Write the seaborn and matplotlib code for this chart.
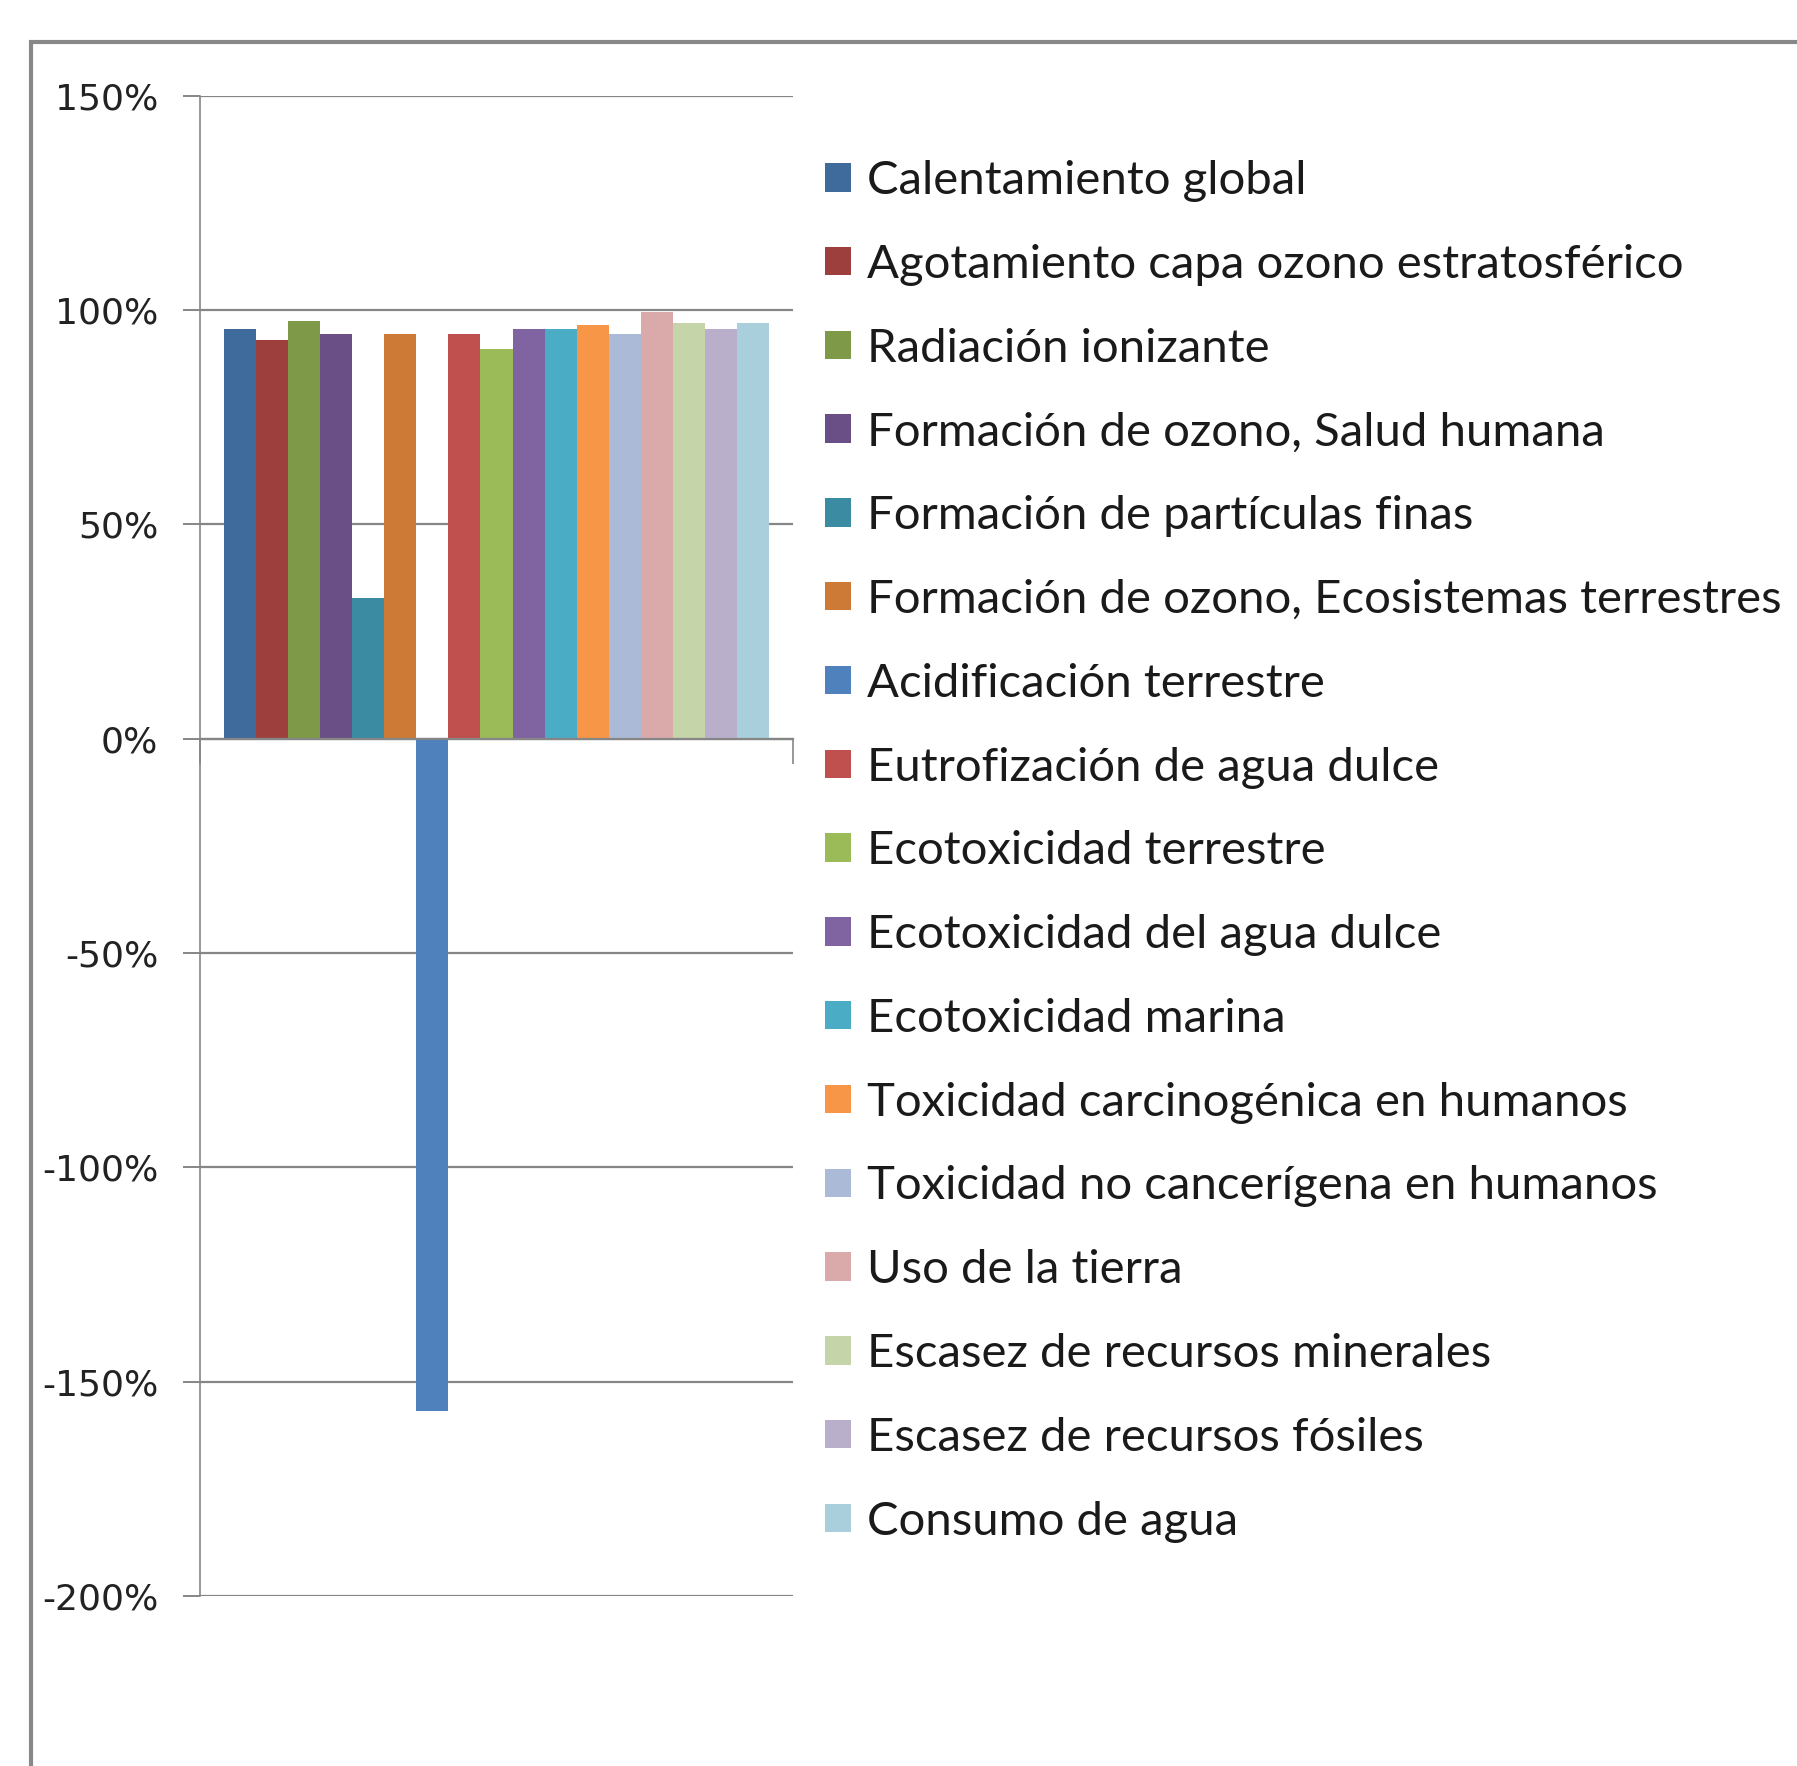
import matplotlib
matplotlib.use("Agg")
import matplotlib.pyplot as plt
import seaborn as sns
import pandas as pd
from matplotlib.patches import Rectangle
from matplotlib.ticker import FuncFormatter

categorias = [
    "Calentamiento global",
    "Agotamiento capa ozono estratosférico",
    "Radiación ionizante",
    "Formación de ozono, Salud humana",
    "Formación de partículas finas",
    "Formación de ozono, Ecosistemas terrestres",
    "Acidificación terrestre",
    "Eutrofización de agua dulce",
    "Ecotoxicidad terrestre",
    "Ecotoxicidad del agua dulce",
    "Ecotoxicidad marina",
    "Toxicidad carcinogénica en humanos",
    "Toxicidad no cancerígena en humanos",
    "Uso de la tierra",
    "Escasez de recursos minerales",
    "Escasez de recursos fósiles",
    "Consumo de agua",
]
valores = [0.955, 0.929, 0.975, 0.945, 0.328, 0.945, -1.569, 0.945, 0.908,
           0.955, 0.955, 0.965, 0.945, 0.996, 0.970, 0.955, 0.970]
colores = ["#3F6A9C", "#9D403D", "#7E9A48", "#6A4F87", "#3B8BA2", "#CD7A37",
           "#4F81BD", "#C0504D", "#9BBB59", "#8064A2", "#4BACC6", "#F79646",
           "#AABAD7", "#D9AAA9", "#C5D5A9", "#B9AFCB", "#A9CEDC"]
grupo = [""] * len(categorias)
ticks_y = [-2.0, -1.5, -1.0, -0.5, 0.0, 0.5, 1.0, 1.5]

df = pd.DataFrame({"grupo": grupo, "categoria": categorias, "valor": valores})

sns.set_style("white")
plt.rcParams["font.family"] = ["Lato", "DejaVu Sans"]

W, H = 1797, 1766
fig = plt.figure(figsize=(W / 100, H / 100), dpi=100)
ax = fig.add_axes([200 / W, 1 - 1596 / H, 593 / W, (1596 - 95.7) / H])

sns.barplot(data=df, x="grupo", y="valor", hue="categoria", hue_order=categorias,
            palette=colores, dodge=True, width=0.92, ax=ax, linewidth=0,
            saturation=1)

gray = "#868686"
ax.set_xlim(-0.5, 0.5)
ax.set_ylim(-2.0, 1.5)
ax.set_yticks(ticks_y)
ax.yaxis.set_major_formatter(FuncFormatter(lambda v, p: f"{int(round(v * 100))}%"))
ax.set_xticks([-0.5, 0.5])
ax.set_xticklabels(["", ""])
ax.set_xlabel("")
ax.set_ylabel("")
ax.set_axisbelow(True)
ax.yaxis.grid(True, color=gray, lw=1.6)
ax.xaxis.grid(False)
for s in ["top", "right"]:
    ax.spines[s].set_visible(False)
ax.spines["left"].set_color(gray)
ax.spines["left"].set_linewidth(1.2)
ax.spines["bottom"].set_position(("data", 0))
ax.spines["bottom"].set_color(gray)
ax.spines["bottom"].set_linewidth(1.6)
ax.tick_params(axis="y", left=True, direction="out", length=12, width=1.4,
               color=gray, pad=18, labelsize=26, labelcolor="#222222")
ax.tick_params(axis="x", bottom=True, direction="out", length=18, width=1.2,
               color=gray)
for lab in ax.get_yticklabels():
    lab.set_family(["Liberation Sans Narrow", "DejaVu Sans"])

sns.move_legend(ax, loc="upper left", bbox_to_anchor=(825 / W, 1 - 160 / H),
                bbox_transform=fig.transFigure, frameon=False, title=None,
                fontsize=34, labelspacing=0.885, handlelength=0.55,
                handleheight=0.55, handletextpad=0.34, borderpad=0,
                borderaxespad=0)
for t in ax.get_legend().get_texts():
    t.set_color("#1a1a1a")

fig.add_artist(Rectangle((31 / W, -0.1), 1.2, 1 - 42 / H + 0.1,
                         transform=fig.transFigure, fill=False,
                         edgecolor="#888888", lw=3))

fig.savefig("out.png", dpi=100)
